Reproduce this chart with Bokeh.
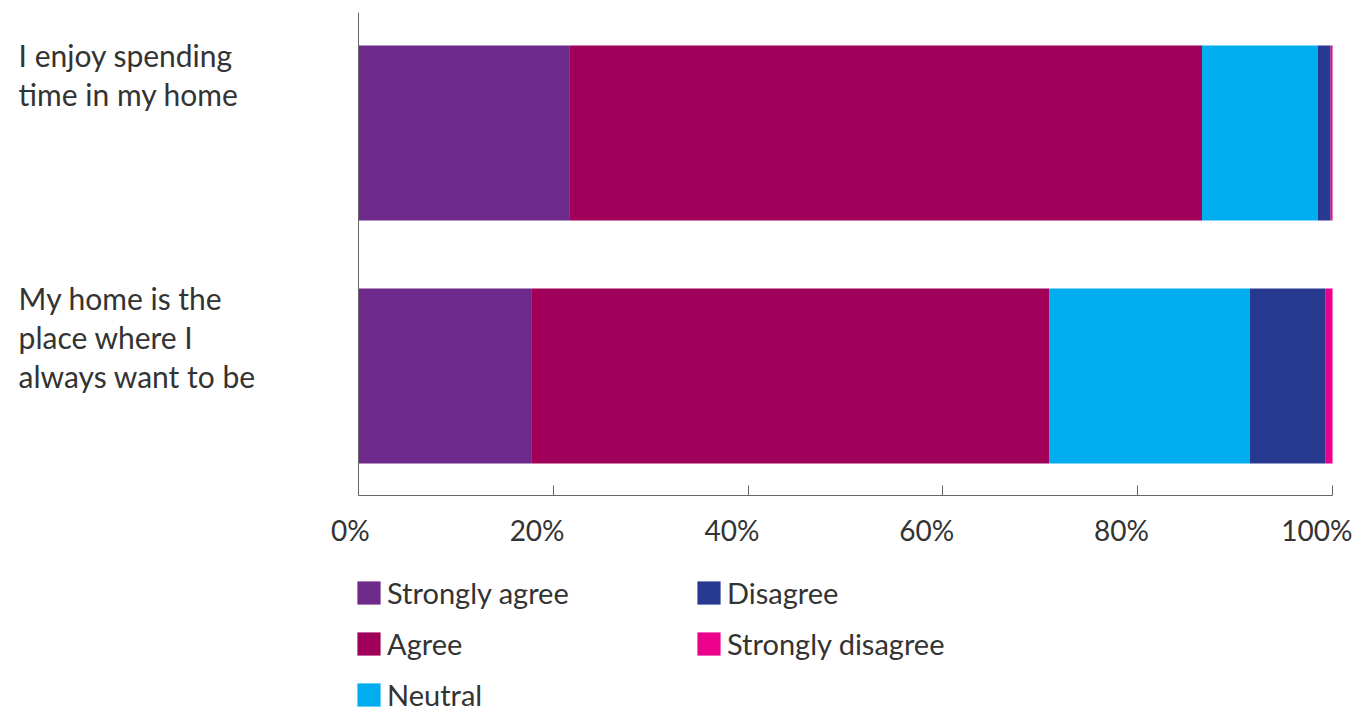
from bokeh.plotting import figure
from bokeh.layouts import column
from bokeh.models import FixedTicker, Legend, LegendItem, Span, ColumnDataSource, Range1d
from bokeh.core.properties import value
from bokeh.embed import file_html
from bokeh.resources import INLINE

categories = ["I enjoy spending\ntime in my home", "My home is the\nplace where I\nalways want to be"]
series = ["Strongly agree", "Agree", "Neutral", "Disagree", "Strongly disagree"]
strongly_agree = [21.7, 17.8]
agree = [64.9, 53.1]
neutral = [11.9, 20.6]
disagree = [1.3, 7.8]
strongly_disagree = [0.2, 0.7]
colors = ["#6D2A8B", "#A0005A", "#00AEEF", "#283A8F", "#EC008C"]
ticks = [0, 20, 40, 60, 80, 100]
tick_labels = ["0%", "20%", "40%", "60%", "80%", "100%"]

FONT = "Lato"
TXT = "#333333"
FS = "\u2007"  # figure space, nudges centred tick labels slightly left like the reference
label_pad = [FS, FS * 2, FS * 2, FS * 2, FS * 2, ""]

ypos = [1, 0]
src = ColumnDataSource(dict(
    y=ypos,
    cat=categories,
    label_y=[v + 0.395 for v in ypos],
    sa=strongly_agree, ag=agree, ne=neutral, di=disagree, sd=strongly_disagree,
))
keys = ["sa", "ag", "ne", "di", "sd"]

p = figure(frame_width=1352, frame_height=483,
           x_range=(-36.76, 102.05), y_range=(-0.492, 1.496),
           output_backend="svg", toolbar_location=None,
           min_border_left=0, min_border_right=0, min_border_top=12, min_border_bottom=60)

p.hbar_stack(keys, y="y", height=0.72, color=colors, source=src, line_width=0)

p.text(x=-34.9, y="label_y", text="cat", source=src,
       text_font=value(FONT), text_font_size="30px", text_color=TXT,
       text_align="left", text_baseline="top", text_line_height=1.08)

p.add_layout(Span(location=0, dimension="height", line_color="#666666", line_width=1))

p.yaxis.visible = False
p.xgrid.visible = False
p.ygrid.visible = False
p.outline_line_color = None

ax = p.xaxis[0]
ax.bounds = (0, 100)
ax.ticker = FixedTicker(ticks=ticks)
ax.major_label_overrides = {t: l + pad for t, l, pad in zip(ticks, tick_labels, label_pad)}
ax.major_tick_in = 10
ax.major_tick_out = 0
ax.minor_tick_line_color = None
ax.axis_line_color = "#666666"
ax.major_tick_line_color = "#666666"
ax.major_label_text_font = FONT
ax.major_label_text_font_size = "28px"
ax.major_label_text_color = TXT
ax.major_label_standoff = 17

# legend panel (separate figure below the chart)
p2 = figure(frame_width=1352, frame_height=157, x_range=Range1d(0, 1), y_range=Range1d(0, 1),
            output_backend="svg", toolbar_location=None,
            min_border_left=0, min_border_right=0, min_border_top=0, min_border_bottom=0)
p2.axis.visible = False
p2.grid.visible = False
p2.outline_line_color = None
dummy = ColumnDataSource(dict(x=[-10], y=[-10]))
leg_renderers = [p2.rect(x="x", y="y", width=0.1, height=0.1, source=dummy,
                         fill_color=c, line_color=None) for c in colors]

legend = Legend(items=[LegendItem(label=s, renderers=[r]) for s, r in zip(series, leg_renderers)],
                orientation="vertical", nrows=3, location=(354, 0),
                glyph_width=29, glyph_height=29, label_standoff=4,
                label_text_font=FONT, label_text_font_size="29px", label_text_color=TXT,
                label_height=23, label_width=291, spacing=16, padding=0, margin=0,
                border_line_color=None, background_fill_alpha=0)
p2.add_layout(legend, "center")

layout = column(p, p2, spacing=0)
open("out.html", "w").write(file_html(layout, INLINE))
